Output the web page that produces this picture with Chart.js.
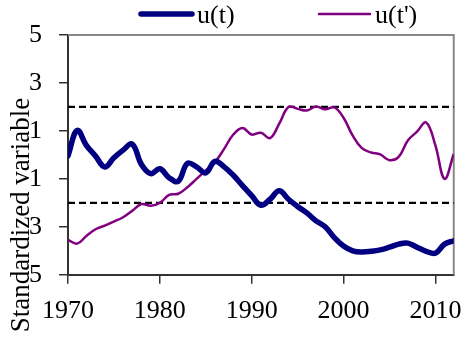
<!DOCTYPE html>
<html>
<head>
<meta charset="utf-8">
<script src="https://cdn.jsdelivr.net/npm/chart.js@4.4.1/dist/chart.umd.min.js"></script>
<style>
  html, body { margin: 0; padding: 0; background: #fff; }
</style>
</head>
<body>
<canvas id="grafico" width="474" height="339"></canvas>
<script>
// Datos
const years = [1970, 1971, 1972, 1973, 1974, 1975, 1976, 1977, 1978, 1979,
               1980, 1981, 1982, 1983, 1984, 1985, 1986, 1987, 1988, 1989,
               1990, 1991, 1992, 1993, 1994, 1995, 1996, 1997, 1998, 1999,
               2000, 2001, 2002, 2003, 2004, 2005, 2006, 2007, 2008, 2009,
               2010, 2011, 2012];

const uT = [-0.04, 1.02, 0.4, -0.05, -0.5, -0.12, 0.2, 0.45, -0.4, -0.78,
            -0.58, -0.95, -1.1, -0.35, -0.5, -0.75, -0.27, -0.5, -0.85, -1.28,
            -1.7, -2.1, -1.85, -1.5, -1.85, -2.15, -2.42, -2.75, -3.0, -3.45,
            -3.8, -4.0, -4.05, -4.02, -3.96, -3.85, -3.72, -3.68, -3.85, -4.02,
            -4.1, -3.72, -3.58];

const uTp = [-3.54, -3.7, -3.38, -3.1, -2.95, -2.78, -2.6, -2.33, -2.05, -2.12,
             -2.0, -1.67, -1.62, -1.35, -1.0, -0.65, -0.3, 0.25, 0.85, 1.12,
             0.85, 0.92, 0.7, 1.3, 2.0, 1.92, 1.85, 2.02, 1.9, 1.98,
             1.55, 0.8, 0.28, 0.1, 0.02, -0.22, -0.08, 0.6, 0.97, 1.35,
             0.4, -1.0, 0.04];

const refLevels = [2, -2];

const xTicks = [1970, 1980, 1990, 2000, 2010];
const yTicks = [-5, -3, -1, 1, 3, 5];
const yTickLabels = ["5", "3", "1", "1", "3", "5"];

const FONT = "'Liberation Serif', 'Times New Roman', serif";

// Leyenda propia arriba
const leyendaPlugin = {
    id: "leyenda",
    afterDraw(chart) {
        const ctx = chart.ctx;
        const items = [
            { ds: chart.data.datasets[0], x: 141 },
            { ds: chart.data.datasets[1], x: 319 }
        ];
        ctx.save();
        items.forEach(it => {
            ctx.strokeStyle = it.ds.borderColor;
            ctx.lineWidth = it.ds.borderWidth;
            ctx.lineCap = "round";
            ctx.beginPath();
            ctx.moveTo(it.x, 14);
            ctx.lineTo(it.x + 51, 14);
            ctx.stroke();
            ctx.fillStyle = "#000";
            ctx.font = "26px " + FONT;
            ctx.textBaseline = "middle";
            ctx.textAlign = "left";
            ctx.fillText(it.ds.label, it.x + 56, 16);
        });
        ctx.restore();
    }
};

// Marco gris arriba y a la derecha + titulo del eje Y
const marcoPlugin = {
    id: "marco",
    beforeDatasetsDraw(chart) {
        const { ctx, chartArea: a } = chart;
        ctx.save();
        ctx.strokeStyle = "#888";
        ctx.lineWidth = 2;
        ctx.beginPath();
        ctx.moveTo(a.left, a.top);
        ctx.lineTo(a.right, a.top);
        ctx.lineTo(a.right, a.bottom);
        ctx.stroke();
        ctx.restore();
    },
    afterDraw(chart) {
        const ctx = chart.ctx;
        ctx.save();
        ctx.translate(22, 215);
        ctx.rotate(-Math.PI / 2);
        ctx.fillStyle = "#000";
        ctx.font = "27px " + FONT;
        ctx.textAlign = "center";
        ctx.textBaseline = "middle";
        ctx.fillText("Standardized variable", 0, 0);
        ctx.restore();
    }
};

const puntos = serie => years.map((y, i) => ({ x: y, y: serie[i] }));
const refLine = v => [{ x: years[0], y: v }, { x: years[years.length - 1], y: v }];

new Chart(document.getElementById("grafico"), {
    type: "line",
    data: {
        datasets: [
            {
                label: "u(t)",
                data: puntos(uT),
                borderColor: "#000080",
                borderWidth: 5.5,
                pointRadius: 0,
                tension: 0.4,
                borderCapStyle: "round",
                borderJoinStyle: "round"
            },
            {
                label: "u(t')",
                data: puntos(uTp),
                borderColor: "#800080",
                borderWidth: 2.5,
                pointRadius: 0,
                tension: 0.4
            },
            ...refLevels.map(v => ({
                label: "ref " + v,
                data: refLine(v),
                borderColor: "#000",
                borderWidth: 2.2,
                borderDash: [7, 4],
                pointRadius: 0,
                tension: 0
            }))
        ]
    },
    options: {
        responsive: false,
        animation: false,
        layout: { padding: { left: 12, right: 13, top: 35, bottom: 0 } },
        plugins: {
            legend: { display: false },
            tooltip: { enabled: false }
        },
        scales: {
            x: {
                type: "linear",
                min: 1970,
                max: 2012,
                afterBuildTicks: s => { s.ticks = xTicks.map(v => ({ value: v })); },
                ticks: {
                    autoSkip: false,
                    maxRotation: 0,
                    padding: 12,
                    color: "#000",
                    font: { family: FONT, size: 26 },
                    callback: v => String(v)
                },
                grid: { drawOnChartArea: false, tickLength: 9, color: "#333", lineWidth: 1.5 },
                border: { color: "#333", width: 2 }
            },
            y: {
                min: -5,
                max: 5,
                afterBuildTicks: s => { s.ticks = yTicks.map(v => ({ value: v })); },
                ticks: {
                    padding: 17,
                    color: "#000",
                    font: { family: FONT, size: 26 },
                    callback: (v, i) => yTickLabels[i]
                },
                grid: { drawOnChartArea: false, tickLength: 9, color: "#333", lineWidth: 1.5 },
                border: { color: "#333", width: 2 }
            }
        }
    },
    plugins: [marcoPlugin, leyendaPlugin]
});
</script>
</body>
</html>
